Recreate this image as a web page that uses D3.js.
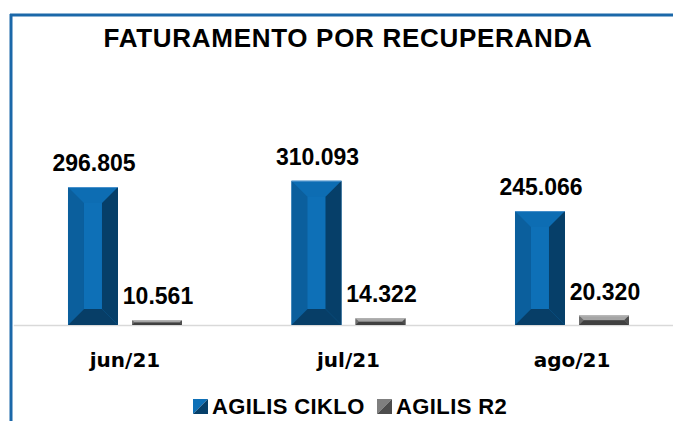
<!DOCTYPE html>
<html>
<head>
<meta charset="utf-8">
<script src="https://cdn.jsdelivr.net/npm/d3@7"></script>
<style>
  html, body { margin: 0; padding: 0; background: #fff; }
  svg { display: block; }
</style>
</head>
<body>
<svg id="chart" width="673" height="421"></svg>
<script>
const title = "FATURAMENTO POR RECUPERANDA";
const categories = ["jun/21", "jul/21", "ago/21"];
const seriesNames = ["AGILIS CIKLO", "AGILIS R2"];
const agilisCiklo = [296805, 310093, 245066];
const agilisR2 = [10561, 14322, 20320];
const seriesValues = [agilisCiklo, agilisR2];

const palettes = [
  { center: "#0e70b7", top: "#0d6db3", left: "#0b5f9d", right: "#063f69", bottom: "#073e67", edge: "#6fa8dc" },
  { center: "#7f7f7f", top: "#a5a5a5", left: "#6e6e6e", right: "#4d4d4d", bottom: "#404040", edge: "#bfbfbf" }
];

const svg = d3.select("#chart");
const W = 673, H = 421;
const baseY = 325;

const fmt = v => d3.format(",")(v).replace(/,/g, ".");

// frame (blue border top and left)
svg.append("line").attr("x1", 10).attr("x2", W).attr("y1", 15).attr("y2", 15)
  .attr("stroke", "#1b68a9").attr("stroke-width", 3);
svg.append("line").attr("x1", 11).attr("x2", 11).attr("y1", 14).attr("y2", H)
  .attr("stroke", "#1b68a9").attr("stroke-width", 3);

// title
svg.append("text").attr("x", 348).attr("y", 47).attr("text-anchor", "middle")
  .style("font-family", "'Liberation Sans', Arial, sans-serif").style("font-weight", "bold")
  .style("font-size", "26px").style("letter-spacing", "0.7px").attr("fill", "#000")
  .text(title);

const x0 = d3.scaleBand().domain(categories).range([13.25, 13.25 + 223.5 * 3]).padding(0);
const x1 = d3.scaleBand().domain(seriesNames).range([0, x0.bandwidth()])
  .paddingInner(0.219).paddingOuter(0.855);
const y = d3.scaleLinear().domain([0, 600000]).range([baseY, baseY - 600000 * 138 / 296805]);

// axis
const axis = svg.append("g").attr("transform", `translate(0,${baseY})`)
  .call(d3.axisBottom(x0).tickSize(0));
axis.select(".domain").attr("stroke", "#d9d9d9").attr("stroke-width", 1.5);
axis.selectAll("text")
  .attr("y", 42).attr("dy", 0)
  .style("font-family", "'DejaVu Sans', sans-serif").style("font-weight", "bold")
  .style("font-size", "20px").attr("fill", "#000");

function bevel(g, x, yTop, w, h, pal) {
  const d = Math.min(16, h / 2, w / 3);
  const yb = yTop + h;
  const poly = (pts, fill) => g.append("polygon")
    .attr("points", pts.map(p => p.join(",")).join(" ")).attr("fill", fill);
  g.append("rect").attr("x", x).attr("y", yTop).attr("width", w).attr("height", h).attr("fill", pal.center);
  poly([[x, yTop], [x + w, yTop], [x + w - d, yTop + d], [x + d, yTop + d]], pal.top);
  poly([[x, yTop], [x + d, yTop + d], [x + d, yb - d], [x, yb]], pal.left);
  poly([[x + w, yTop], [x + w, yb], [x + w - d, yb - d], [x + w - d, yTop + d]], pal.right);
  poly([[x, yb], [x + d, yb - d], [x + w - d, yb - d], [x + w, yb]], pal.bottom);
  g.append("line").attr("x1", x).attr("x2", x + w).attr("y1", yTop + 0.5).attr("y2", yTop + 0.5)
    .attr("stroke", pal.edge).attr("stroke-width", 1).attr("opacity", 0.6);
}

const bars = svg.append("g");
categories.forEach((c, i) => {
  seriesNames.forEach((s, j) => {
    const v = seriesValues[j][i];
    const bx = x0(c) + x1(s);
    const by = y(v);
    const bh = baseY - by;
    bevel(bars.append("g"), bx, by, x1.bandwidth(), bh, palettes[j]);
    bars.append("text")
      .attr("x", bx + x1.bandwidth() / 2 + 1).attr("y", by - 16)
      .attr("text-anchor", "middle")
      .style("font-family", "'Liberation Sans', Arial, sans-serif").style("font-weight", "bold")
      .style("font-size", "23px").attr("fill", "#000")
      .text(fmt(v));
  });
});

// legend
const legendItems = [
  { name: seriesNames[0], sx: 193, tx: 212, pal: palettes[0] },
  { name: seriesNames[1], sx: 377, tx: 396, pal: palettes[1] }
];
const lg = svg.append("g");
legendItems.forEach(it => {
  const s = 15, sy = 399;
  lg.append("polygon").attr("points", `${it.sx},${sy} ${it.sx + s},${sy} ${it.sx},${sy + s}`).attr("fill", it.pal.center);
  lg.append("polygon").attr("points", `${it.sx + s},${sy} ${it.sx + s},${sy + s} ${it.sx},${sy + s}`).attr("fill", it.pal.right);
  lg.append("text").attr("x", it.tx).attr("y", 414)
    .style("font-family", "'Liberation Sans', Arial, sans-serif").style("font-weight", "bold")
    .style("font-size", "22px").style("letter-spacing", "0.4px").attr("fill", "#000")
    .text(it.name);
});
</script>
</body>
</html>
